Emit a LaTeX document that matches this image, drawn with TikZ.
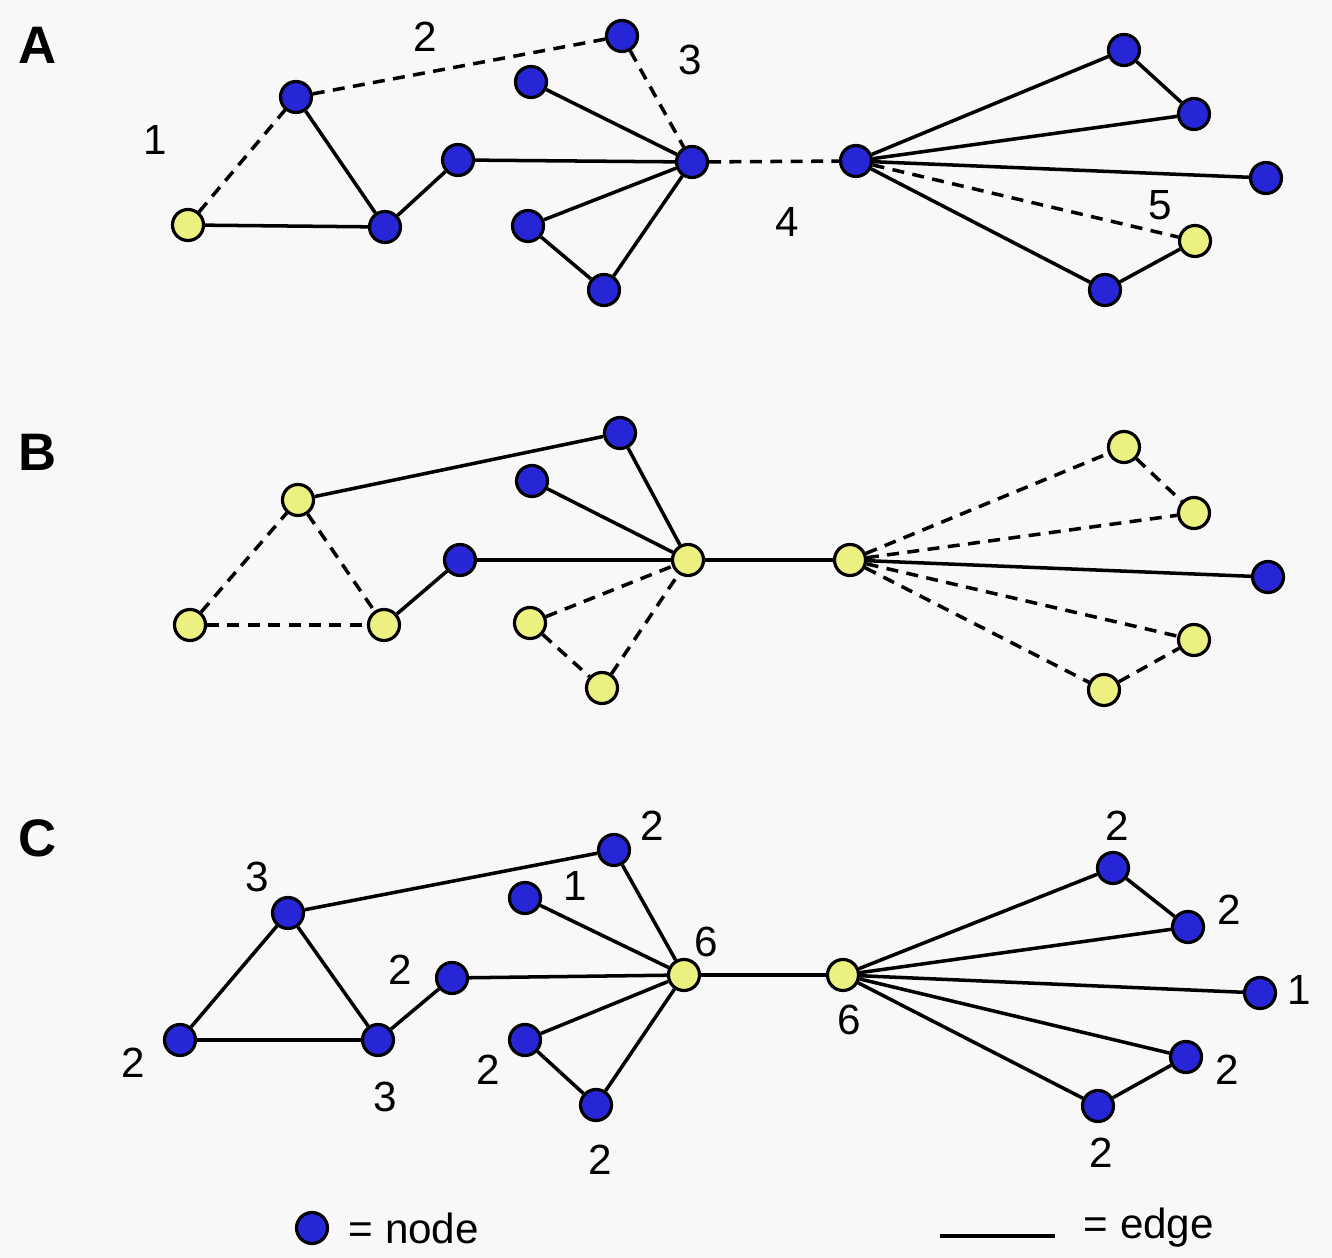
\documentclass[tikz,border=0pt]{standalone}
\usepackage{fontspec}
\setmainfont{Liberation Sans}
\definecolor{nblue}{RGB}{38,38,215}
\definecolor{nyel}{RGB}{236,240,128}
\definecolor{bgc}{RGB}{248,248,248}
\begin{document}
\begin{tikzpicture}[x=0.01cm,y=-0.01cm,
  bn/.style={circle,draw=black,line width=0.9pt,fill=nblue,minimum size=0.31cm,inner sep=0pt},
  yn/.style={circle,draw=black,line width=0.9pt,fill=nyel,minimum size=0.31cm,inner sep=0pt},
  ed/.style={line width=1pt},
  de/.style={line width=1pt,dash pattern=on 3.4pt off 2.4pt},
  lb/.style={font=\fontsize{12}{13}\selectfont,inner sep=0pt},
  pl/.style={font=\fontsize{15}{16}\selectfont\bfseries,inner sep=0pt}]
\fill[bgc] (0,0) rectangle (1332,1258);
\useasboundingbox (0,0) rectangle (1332,1258);
% ---------------- Panel A
\node[pl] (pA) at (38,45) {A};
\node[yn] (a1) at (188,225) {};
\node[bn] (a2) at (296,97) {};
\node[bn] (a3) at (385,227) {};
\node[bn] (a4) at (458,160) {};
\node[bn] (a5) at (531,82) {};
\node[bn] (a6) at (622,36) {};
\node[bn] (a7) at (528,226) {};
\node[bn] (a8) at (604,290) {};
\node[bn] (a9) at (692,162) {};
\node[bn] (a10) at (856,161) {};
\node[bn] (a11) at (1124,50) {};
\node[bn] (a12) at (1194,114) {};
\node[bn] (a13) at (1266,178) {};
\node[yn] (a14) at (1195,241) {};
\node[bn] (a15) at (1105,290) {};
\draw[de] (a1) -- (a2);
\draw[ed] (a1) -- (a3);
\draw[ed] (a2) -- (a3);
\draw[de] (a2) -- (a6);
\draw[ed] (a3) -- (a4);
\draw[ed] (a4) -- (a9);
\draw[ed] (a5) -- (a9);
\draw[de] (a6) -- (a9);
\draw[ed] (a7) -- (a9);
\draw[ed] (a7) -- (a8);
\draw[ed] (a8) -- (a9);
\draw[de] (a9) -- (a10);
\draw[ed] (a10) -- (a11);
\draw[ed] (a11) -- (a12);
\draw[ed] (a10) -- (a12);
\draw[ed] (a10) -- (a13);
\draw[de] (a10) -- (a14);
\draw[ed] (a10) -- (a15);
\draw[ed] (a15) -- (a14);
\node[lb] (la1) at (155,140) {1};
\node[lb] (la2) at (425,37) {2};
\node[lb] (la3) at (690,60) {3};
\node[lb] (la4) at (787,222) {4};
\node[lb] (la5) at (1160,205) {5};
% ---------------- Panel B
\node[pl] (pB) at (38,452) {B};
\node[yn] (b1) at (190,625) {};
\node[yn] (b2) at (298,500) {};
\node[yn] (b3) at (384,625) {};
\node[bn] (b4) at (460,560) {};
\node[bn] (b5) at (532,481) {};
\node[bn] (b6) at (620,433) {};
\node[yn] (b7) at (530,623) {};
\node[yn] (b8) at (602,688) {};
\node[yn] (b9) at (688,560) {};
\node[yn] (b10) at (850,560) {};
\node[yn] (b11) at (1124,447) {};
\node[yn] (b12) at (1194,513) {};
\node[bn] (b13) at (1268,577) {};
\node[yn] (b14) at (1194,640) {};
\node[yn] (b15) at (1104,690) {};
\draw[de] (b1) -- (b2);
\draw[de] (b1) -- (b3);
\draw[de] (b2) -- (b3);
\draw[ed] (b2) -- (b6);
\draw[ed] (b3) -- (b4);
\draw[ed] (b4) -- (b9);
\draw[ed] (b5) -- (b9);
\draw[ed] (b6) -- (b9);
\draw[de] (b7) -- (b9);
\draw[de] (b7) -- (b8);
\draw[de] (b8) -- (b9);
\draw[ed] (b9) -- (b10);
\draw[de] (b10) -- (b11);
\draw[de] (b11) -- (b12);
\draw[de] (b10) -- (b12);
\draw[ed] (b10) -- (b13);
\draw[de] (b10) -- (b14);
\draw[de] (b10) -- (b15);
\draw[de] (b15) -- (b14);
% ---------------- Panel C
\node[pl] (pC) at (38,838) {C};
\node[bn] (c1) at (180,1040) {};
\node[bn] (c2) at (288,913) {};
\node[bn] (c3) at (378,1040) {};
\node[bn] (c4) at (452,978) {};
\node[bn] (c5) at (525,898) {};
\node[bn] (c6) at (614,850) {};
\node[bn] (c7) at (525,1040) {};
\node[bn] (c8) at (596,1105) {};
\node[yn] (c9) at (684,975) {};
\node[yn] (c10) at (843,975) {};
\node[bn] (c11) at (1113,868) {};
\node[bn] (c12) at (1188,927) {};
\node[bn] (c13) at (1260,993) {};
\node[bn] (c14) at (1186,1057) {};
\node[bn] (c15) at (1098,1106) {};
\draw[ed] (c1) -- (c2);
\draw[ed] (c1) -- (c3);
\draw[ed] (c2) -- (c3);
\draw[ed] (c2) -- (c6);
\draw[ed] (c3) -- (c4);
\draw[ed] (c4) -- (c9);
\draw[ed] (c5) -- (c9);
\draw[ed] (c6) -- (c9);
\draw[ed] (c7) -- (c9);
\draw[ed] (c7) -- (c8);
\draw[ed] (c8) -- (c9);
\draw[ed] (c9) -- (c10);
\draw[ed] (c10) -- (c11);
\draw[ed] (c11) -- (c12);
\draw[ed] (c10) -- (c12);
\draw[ed] (c10) -- (c13);
\draw[ed] (c10) -- (c14);
\draw[ed] (c10) -- (c15);
\draw[ed] (c15) -- (c14);
\node[lb] (lc1) at (133,1063) {2};
\node[lb] (lc2) at (257,877) {3};
\node[lb] (lc3) at (385,1097) {3};
\node[lb] (lc4) at (400,970) {2};
\node[lb] (lc5) at (575,886) {1};
\node[lb] (lc6) at (652,826) {2};
\node[lb] (lc7) at (488,1070) {2};
\node[lb] (lc8) at (600,1160) {2};
\node[lb] (lc9) at (706,942) {6};
\node[lb] (lc10) at (849,1020) {6};
\node[lb] (lc11) at (1117,826) {2};
\node[lb] (lc12) at (1229,910) {2};
\node[lb] (lc13) at (1299,990) {1};
\node[lb] (lc14) at (1227,1070) {2};
\node[lb] (lc15) at (1101,1153) {2};
% ---------------- Legend
\node[bn] (lgn) at (312,1228) {};
\node[lb,anchor=west] (lgnt) at (348,1228) {= node};
\coordinate (lge1) at (940,1236);
\coordinate (lge2) at (1055,1236);
\draw[ed] (lge1) -- (lge2);
\node[lb,anchor=west] (lget) at (1083,1228) {= edge};
\end{tikzpicture}
\end{document}
